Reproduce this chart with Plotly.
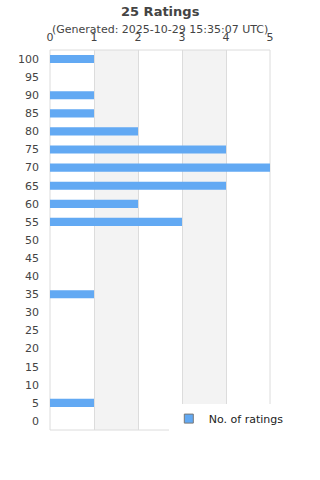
import plotly.graph_objects as go

categories = ["0", "5", "10", "15", "20", "25", "30", "35", "40", "45", "50",
              "55", "60", "65", "70", "75", "80", "85", "90", "95", "100"]
counts = [0, 1, 0, 0, 0, 0, 0, 1, 0, 0, 0,
          3, 2, 4, 5, 4, 2, 1, 1, 0, 1]
x_ticks = [0, 1, 2, 3, 4, 5]
title = "25 Ratings"
subtitle = "(Generated: 2025-10-29 15:35:07 UTC)"
series_name = "No. of ratings"

BAR = "#62a9f3"
FONT = "DejaVu Sans"

fig = go.Figure()
fig.add_trace(go.Bar(
    y=categories, x=counts, orientation="h", width=0.45,
    marker=dict(color=BAR, line=dict(width=0)),
    showlegend=False, name=series_name,
))
fig.add_trace(go.Scatter(
    x=[None], y=[None], mode="markers", name=series_name,
    marker=dict(symbol="square", size=9, color=BAR, line=dict(color="#777", width=1)),
))

shapes = []
for i in range(1, len(x_ticks) - 1, 2):
    shapes.append(dict(type="rect", xref="x", yref="paper", x0=x_ticks[i], x1=x_ticks[i + 1],
                       y0=0, y1=1, fillcolor="#f3f3f3", line=dict(width=0), layer="below"))
shapes.append(dict(type="rect", xref="paper", yref="paper", x0=0, x1=1, y0=0, y1=1,
                   line=dict(color="#dcdcdc", width=1), layer="below"))

fig.update_layout(
    width=320, height=480,
    margin=dict(l=50, r=50, t=50, b=50),
    paper_bgcolor="white", plot_bgcolor="white",
    font=dict(family=FONT, size=11, color="#444"),
    shapes=shapes,
    bargap=0.5,
    xaxis=dict(side="top", range=[0, 5], tickvals=x_ticks, showgrid=True,
               gridcolor="#dcdcdc", gridwidth=1, zeroline=False, ticks="",
               ticklabelstandoff=6, tickfont=dict(size=11, color="#444"),
               fixedrange=True),
    yaxis=dict(type="category", categoryorder="array", categoryarray=categories,
               range=[-0.5, len(categories) - 0.5], showgrid=False, zeroline=False,
               ticks="", ticklabelstandoff=10, tickfont=dict(size=11, color="#444")),
    legend=dict(x=0.54, xanchor="left", y=0.03, yanchor="middle",
                bgcolor="white", font=dict(size=11, color="#222"),
                itemwidth=30),
    annotations=[
        dict(text="<b>" + title + "</b>", xref="paper", yref="paper", x=0.5, y=1,
             yshift=50 - 11, showarrow=False, xanchor="center", yanchor="middle",
             font=dict(size=13, color="#444")),
        dict(text=subtitle, xref="paper", yref="paper", x=0.5, y=1,
             yshift=50 - 29, showarrow=False, xanchor="center", yanchor="middle",
             font=dict(size=11, color="#444")),
    ],
)

fig.write_html("out.html")
